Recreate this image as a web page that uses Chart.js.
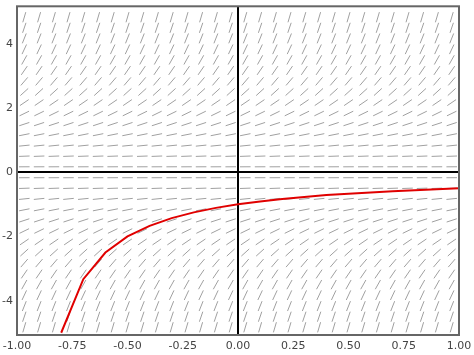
<!DOCTYPE html>
<html><head><meta charset="utf-8">
<script src="https://cdn.jsdelivr.net/npm/chart.js@4"></script>
<style>html,body{margin:0;padding:0;background:#fff}#wrap{width:474px;height:355px}</style>
</head><body><div id="wrap"><canvas id="c" width="474" height="355"></canvas></div>
<script>
// slope-field grid: column x centres, row y centres, slope per row
const fieldX = [-0.967,-0.9,-0.833,-0.767,-0.7,-0.633,-0.567,-0.5,-0.433,-0.367,-0.3,-0.233,-0.167,-0.1,-0.033,
                0.033,0.1,0.167,0.233,0.3,0.367,0.433,0.5,0.567,0.633,0.7,0.767,0.833,0.9,0.967];
const fieldY = [-4.83,-4.5,-4.17,-3.83,-3.5,-3.17,-2.83,-2.5,-2.17,-1.83,-1.5,-1.17,-0.83,-0.5,-0.17,
                0.17,0.5,0.83,1.17,1.5,1.83,2.17,2.5,2.83,3.17,3.5,3.83,4.17,4.5,4.83];
const rowSlopes = [23.36,20.25,17.36,14.69,12.25,10.03,8.03,6.25,4.69,3.36,2.25,1.36,0.69,0.25,0.03,
                   0.03,0.25,0.69,1.36,2.25,3.36,4.69,6.25,8.03,10.03,12.25,14.69,17.36,20.25,23.36];
// solution curve (red)
const curveX = [-0.8,-0.7,-0.6,-0.5,-0.4,-0.3,-0.2,-0.1,0,0.1,0.2,0.3,0.4,0.5,0.6,0.7,0.8,0.9,1.0];
const curveY = [-5,-3.33,-2.5,-2,-1.67,-1.43,-1.25,-1.11,-1,-0.91,-0.83,-0.77,-0.71,-0.67,-0.63,-0.59,-0.56,-0.53,-0.5];
const xTicks = [-1,-0.75,-0.5,-0.25,0,0.25,0.5,0.75,1];
const yTicks = [-4,-2,0,2,4];

const fieldPts = [], fieldSlope = [];
fieldY.forEach((y,i)=>fieldX.forEach(x=>{fieldPts.push({x,y});fieldSlope.push(rowSlopes[i]);}));
const curvePts = curveX.map((x,i)=>({x,y:curveY[i]}));

const frame = {id:'frame', afterDraw(ch){const a=ch.chartArea,c=ch.ctx;c.save();c.strokeStyle='#666';c.lineWidth=2;
  c.strokeRect(a.left,a.top,a.right-a.left,a.bottom-a.top);c.restore();}};

new Chart(document.getElementById('c'),{
  type:'scatter',
  data:{datasets:[
    {type:'line',data:curvePts,borderColor:'#e00000',borderWidth:2,pointRadius:0,tension:0,fill:false},
    {data:fieldPts,pointStyle:'line',pointRadius:5.3,pointHoverRadius:5.3,pointBorderColor:'#a0a0a0',pointBorderWidth:1,
     pointRotation:(ctx)=>{const ch=ctx.chart,sx=ch.scales.x,sy=ch.scales.y;
       if(!sx||!sy)return 0;const kx=Math.abs(sx.getPixelForValue(1)-sx.getPixelForValue(0));
       const ky=Math.abs(sy.getPixelForValue(1)-sy.getPixelForValue(0));
       const m=fieldSlope[ctx.dataIndex]||0;return -Math.atan(m*ky/kx)*180/Math.PI;}}
  ]},
  options:{responsive:false,animation:false,events:[],
    layout:{padding:{left:0,right:15,top:6,bottom:0}},
    plugins:{legend:{display:false},tooltip:{enabled:false}},
    scales:{
      x:{type:'linear',min:-1,max:1,afterBuildTicks(s){s.ticks=xTicks.map(v=>({value:v}));},
        afterFit(s){s.height=20;s.paddingLeft=0;s.paddingRight=0;},
        border:{display:false},
        grid:{drawTicks:false,color:c=>c.tick&&c.tick.value===0?'#000':'rgba(0,0,0,0)',lineWidth:c=>c.tick&&c.tick.value===0?2:0},
        ticks:{padding:5,color:'#444',font:{family:'DejaVu Sans',size:11},maxRotation:0,callback:v=>Number(v).toFixed(2)}},
      y:{type:'linear',min:-5.07,max:5.17,afterBuildTicks(s){s.ticks=yTicks.map(v=>({value:v}));},
        afterFit(s){s.width=17;s.paddingTop=0;s.paddingBottom=0;},
        border:{display:false},
        grid:{drawTicks:false,color:c=>c.tick&&c.tick.value===0?'#000':'rgba(0,0,0,0)',lineWidth:c=>c.tick&&c.tick.value===0?2:0},
        ticks:{padding:4,color:'#444',font:{family:'DejaVu Sans',size:11},callback:v=>String(v)}}
    }},
  plugins:[frame]
});
</script></body></html>
